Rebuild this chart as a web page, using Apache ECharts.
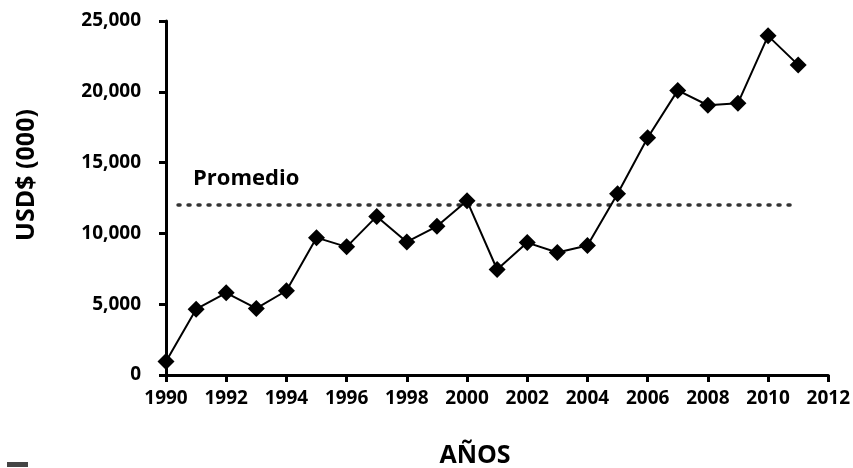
<!DOCTYPE html>
<html>
<head>
<meta charset="utf-8">
<script src="https://cdn.jsdelivr.net/npm/echarts@6/dist/echarts.min.js"></script>
<style>html,body{margin:0;padding:0;background:#fff}#c{width:853px;height:468px}</style>
</head>
<body>
<div id="c"></div>
<script>
const years = [1990,1991,1992,1993,1994,1995,1996,1997,1998,1999,2000,2001,2002,2003,2004,2005,2006,2007,2008,2009,2010,2011];
const values = [950,4650,5800,4700,5950,9700,9050,11200,9400,10500,12300,7450,9350,8650,9150,12800,16750,20100,19050,19200,23950,21900];
const averageValue = 12000;
const averageSpan = [1990.4, 2010.8];
const averageLabel = 'Promedio';
const xTicks = {min: 1990, max: 2012, interval: 2};
const yTicks = {min: 0, max: 25000, interval: 5000};
const xTitle = 'AÑOS';
const yTitle = 'USD$ (000)';

const FONT = '"Open Sans", Lato, sans-serif';
const chart = echarts.init(document.getElementById('c'), null, {renderer: 'canvas'});
chart.setOption({
  animation: false,
  backgroundColor: '#fff',
  grid: {left: 166, right: 24, top: 21, bottom: 93, containLabel: false},
  xAxis: {
    type: 'value', min: xTicks.min, max: xTicks.max, interval: xTicks.interval,
    axisLine: {show: true, lineStyle: {color: '#000', width: 3}},
    axisTick: {show: true, length: 7, lineStyle: {color: '#000', width: 3}},
    splitLine: {show: false},
    axisLabel: {color: '#000', fontFamily: FONT, fontWeight: 'bold', fontSize: 19, margin: 14,
      formatter: v => String(v)}
  },
  yAxis: {
    type: 'value', min: yTicks.min, max: yTicks.max, interval: yTicks.interval,
    axisLine: {show: true, lineStyle: {color: '#000', width: 3}},
    axisTick: {show: true, length: 7, lineStyle: {color: '#000', width: 3}},
    splitLine: {show: false},
    axisLabel: {color: '#000', fontFamily: FONT, fontWeight: 'bold', fontSize: 19, margin: 25,
      formatter: v => v.toLocaleString('en-US')}
  },
  graphic: [
    {type: 'text', x: 27, y: 175, rotation: Math.PI / 2,
      style: {text: yTitle, fill: '#000', font: 'bold 25px ' + FONT, textAlign: 'center', textVerticalAlign: 'middle'}},
    {type: 'text', x: 475, y: 456,
      style: {text: xTitle, fill: '#000', font: 'bold 25px ' + FONT, textAlign: 'center', textVerticalAlign: 'middle'}},
    {type: 'rect', shape: {x: 7, y: 462, width: 21, height: 5}, style: {fill: '#444'}}
  ],
  series: [
    {
      type: 'line',
      data: averageSpan.map((x, i) => ({
        value: [x, averageValue],
        label: {show: i === 0, formatter: averageLabel, position: [15, -26], align: 'left', verticalAlign: 'middle',
          color: '#000', fontFamily: FONT, fontWeight: 'bold', fontSize: 22}
      })),
      symbol: 'circle', symbolSize: 0.1, showSymbol: true,
      itemStyle: {color: 'rgba(0,0,0,0)'},
      lineStyle: {color: '#333', width: 3.5, type: [2, 8], cap: 'round'},
      silent: true, z: 1
    },
    {
      type: 'line',
      data: years.map((y, i) => [y, values[i]]),
      symbol: 'diamond', symbolSize: 17, showSymbol: true,
      itemStyle: {color: '#000'},
      lineStyle: {color: '#000', width: 2},
      clip: false, z: 3
    }
  ]
});
</script>
</body>
</html>
